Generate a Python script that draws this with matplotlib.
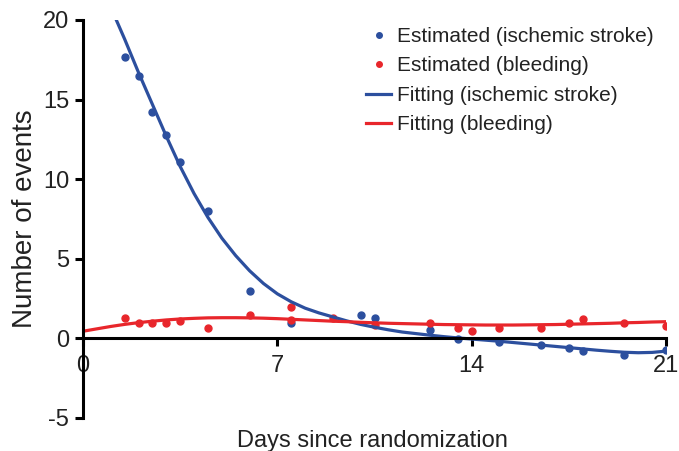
import numpy as np
import matplotlib
matplotlib.use("Agg")
import matplotlib.pyplot as plt

plt.rcParams['font.family'] = ['Liberation Sans', 'DejaVu Sans']
plt.rcParams['axes.unicode_minus'] = False

# estimated events (dots)
days_isch = [1.5, 2.0, 2.5, 3.0, 3.5, 4.5, 6.0, 7.5, 10.0, 10.5,
             12.5, 13.5, 15.0, 16.5, 17.5, 18.0, 19.5, 21.0]
est_isch = [17.7, 16.5, 14.2, 12.8, 11.1, 8.0, 3.0, 0.95, 1.5, 1.3,
            0.55, -0.05, -0.25, -0.4, -0.6, -0.8, -1.05, -0.75]

days_bleed = [1.5, 2.0, 2.5, 3.0, 3.5, 4.5, 6.0, 7.5, 7.5, 9.0, 10.5,
              12.5, 13.5, 14.0, 15.0, 16.5, 17.5, 18.0, 19.5, 21.0]
est_bleed = [1.3, 0.95, 0.95, 0.95, 1.1, 0.63, 1.46, 1.97, 1.15, 1.3, 0.82,
             0.94, 0.65, 0.46, 0.65, 0.65, 0.94, 1.23, 0.94, 0.81]

# fitted curves, sampled from the figure
fit_isch_x = [1.2, 1.5, 2.0, 2.5, 3.0, 3.5, 4.0, 4.5, 5.0, 5.5, 6.0, 6.5, 7.0,
              7.5, 8.0, 8.5, 9.0, 9.5, 10.0, 10.5, 11.0, 11.5, 12.0, 12.5,
              13.0, 13.5, 14.0, 14.5, 15.0, 15.5, 16.0, 16.5, 17.0, 17.5,
              18.0, 18.5, 19.0, 19.5, 20.0, 20.5, 21.0]
fit_isch_y = [20.0, 18.8, 16.7, 14.7, 12.7, 10.8, 9.1, 7.6, 6.3, 5.2, 4.25,
              3.45, 2.8, 2.3, 1.9, 1.6, 1.35, 1.1, 0.88, 0.7, 0.54, 0.4, 0.3,
              0.2, 0.11, 0.03, -0.04, -0.11, -0.18, -0.26, -0.34, -0.42,
              -0.5, -0.58, -0.66, -0.74, -0.81, -0.87, -0.9, -0.88, -0.8]

fit_bleed_x = [0.0, 0.5, 1.0, 1.5, 2.0, 2.5, 3.0, 3.5, 4.0, 4.5, 5.0, 5.5,
               6.0, 6.5, 7.0, 7.5, 8.0, 8.5, 9.0, 9.5, 10.0, 10.5, 11.0,
               11.5, 12.0, 12.5, 13.0, 13.5, 14.0, 14.5, 15.0, 15.5, 16.0,
               16.5, 17.0, 17.5, 18.0, 18.5, 19.0, 19.5, 20.0, 20.5, 21.0]
fit_bleed_y = [0.45, 0.6, 0.75, 0.88, 0.99, 1.08, 1.16, 1.22, 1.26, 1.29,
               1.3, 1.3, 1.29, 1.27, 1.24, 1.2, 1.16, 1.12, 1.08, 1.05, 1.01,
               0.98, 0.95, 0.93, 0.91, 0.89, 0.87, 0.86, 0.85, 0.84, 0.84,
               0.84, 0.85, 0.86, 0.87, 0.89, 0.91, 0.93, 0.95, 0.98, 1.0,
               1.03, 1.05]

blue = '#2c4f9e'
red = '#e8262b'
txt = '#222222'

fig = plt.figure(figsize=(6.79, 4.51), dpi=100)
ax = fig.add_axes([83/679, 33/451, 583/679, 398/451])

ax.plot(days_isch, est_isch, 'o', color=blue, ms=5, label='Estimated (ischemic stroke)')
ax.plot(days_bleed, est_bleed, 'o', color=red, ms=5, label='Estimated (bleeding)')
ax.plot(fit_isch_x, fit_isch_y, '-', color=blue, lw=2.3, label='Fitting (ischemic stroke)')
ax.plot(fit_bleed_x, fit_bleed_y, '-', color=red, lw=2.3, label='Fitting (bleeding)')

ax.set_xlim(0, 21)
ax.set_ylim(-5, 20)
ax.set_xticks([0, 7, 14, 21])
ax.set_yticks([-5, 0, 5, 10, 15, 20])

ax.spines['top'].set_visible(False)
ax.spines['right'].set_visible(False)
ax.spines['bottom'].set_position(('data', 0))
for s in ['left', 'bottom']:
    ax.spines[s].set_linewidth(2.2)
ax.tick_params(axis='both', direction='out', length=6, width=2.2,
               labelsize=17, colors='black')
ax.tick_params(axis='x', pad=6)
ax.tick_params(axis='y', pad=4)
for t in ax.get_xticklabels() + ax.get_yticklabels():
    t.set_color(txt)

ax.set_ylabel('Number of events', fontsize=20, color=txt)
ax.yaxis.set_label_coords(-0.078, 0.5)
ax.set_xlabel('Days since randomization', fontsize=17, color=txt)
ax.xaxis.set_label_coords(0.496, -0.03)

leg = fig.legend(*ax.get_legend_handles_labels(), loc='upper left',
                 bbox_to_anchor=(366/679, 1 - 27/451), frameon=False,
                 fontsize=15, handlelength=1.2, handletextpad=0.3,
                 labelspacing=0.5, markerscale=0.8, borderpad=0,
                 borderaxespad=0)
for t in leg.get_texts():
    t.set_color(txt)

fig.savefig('out.png', dpi=100)
